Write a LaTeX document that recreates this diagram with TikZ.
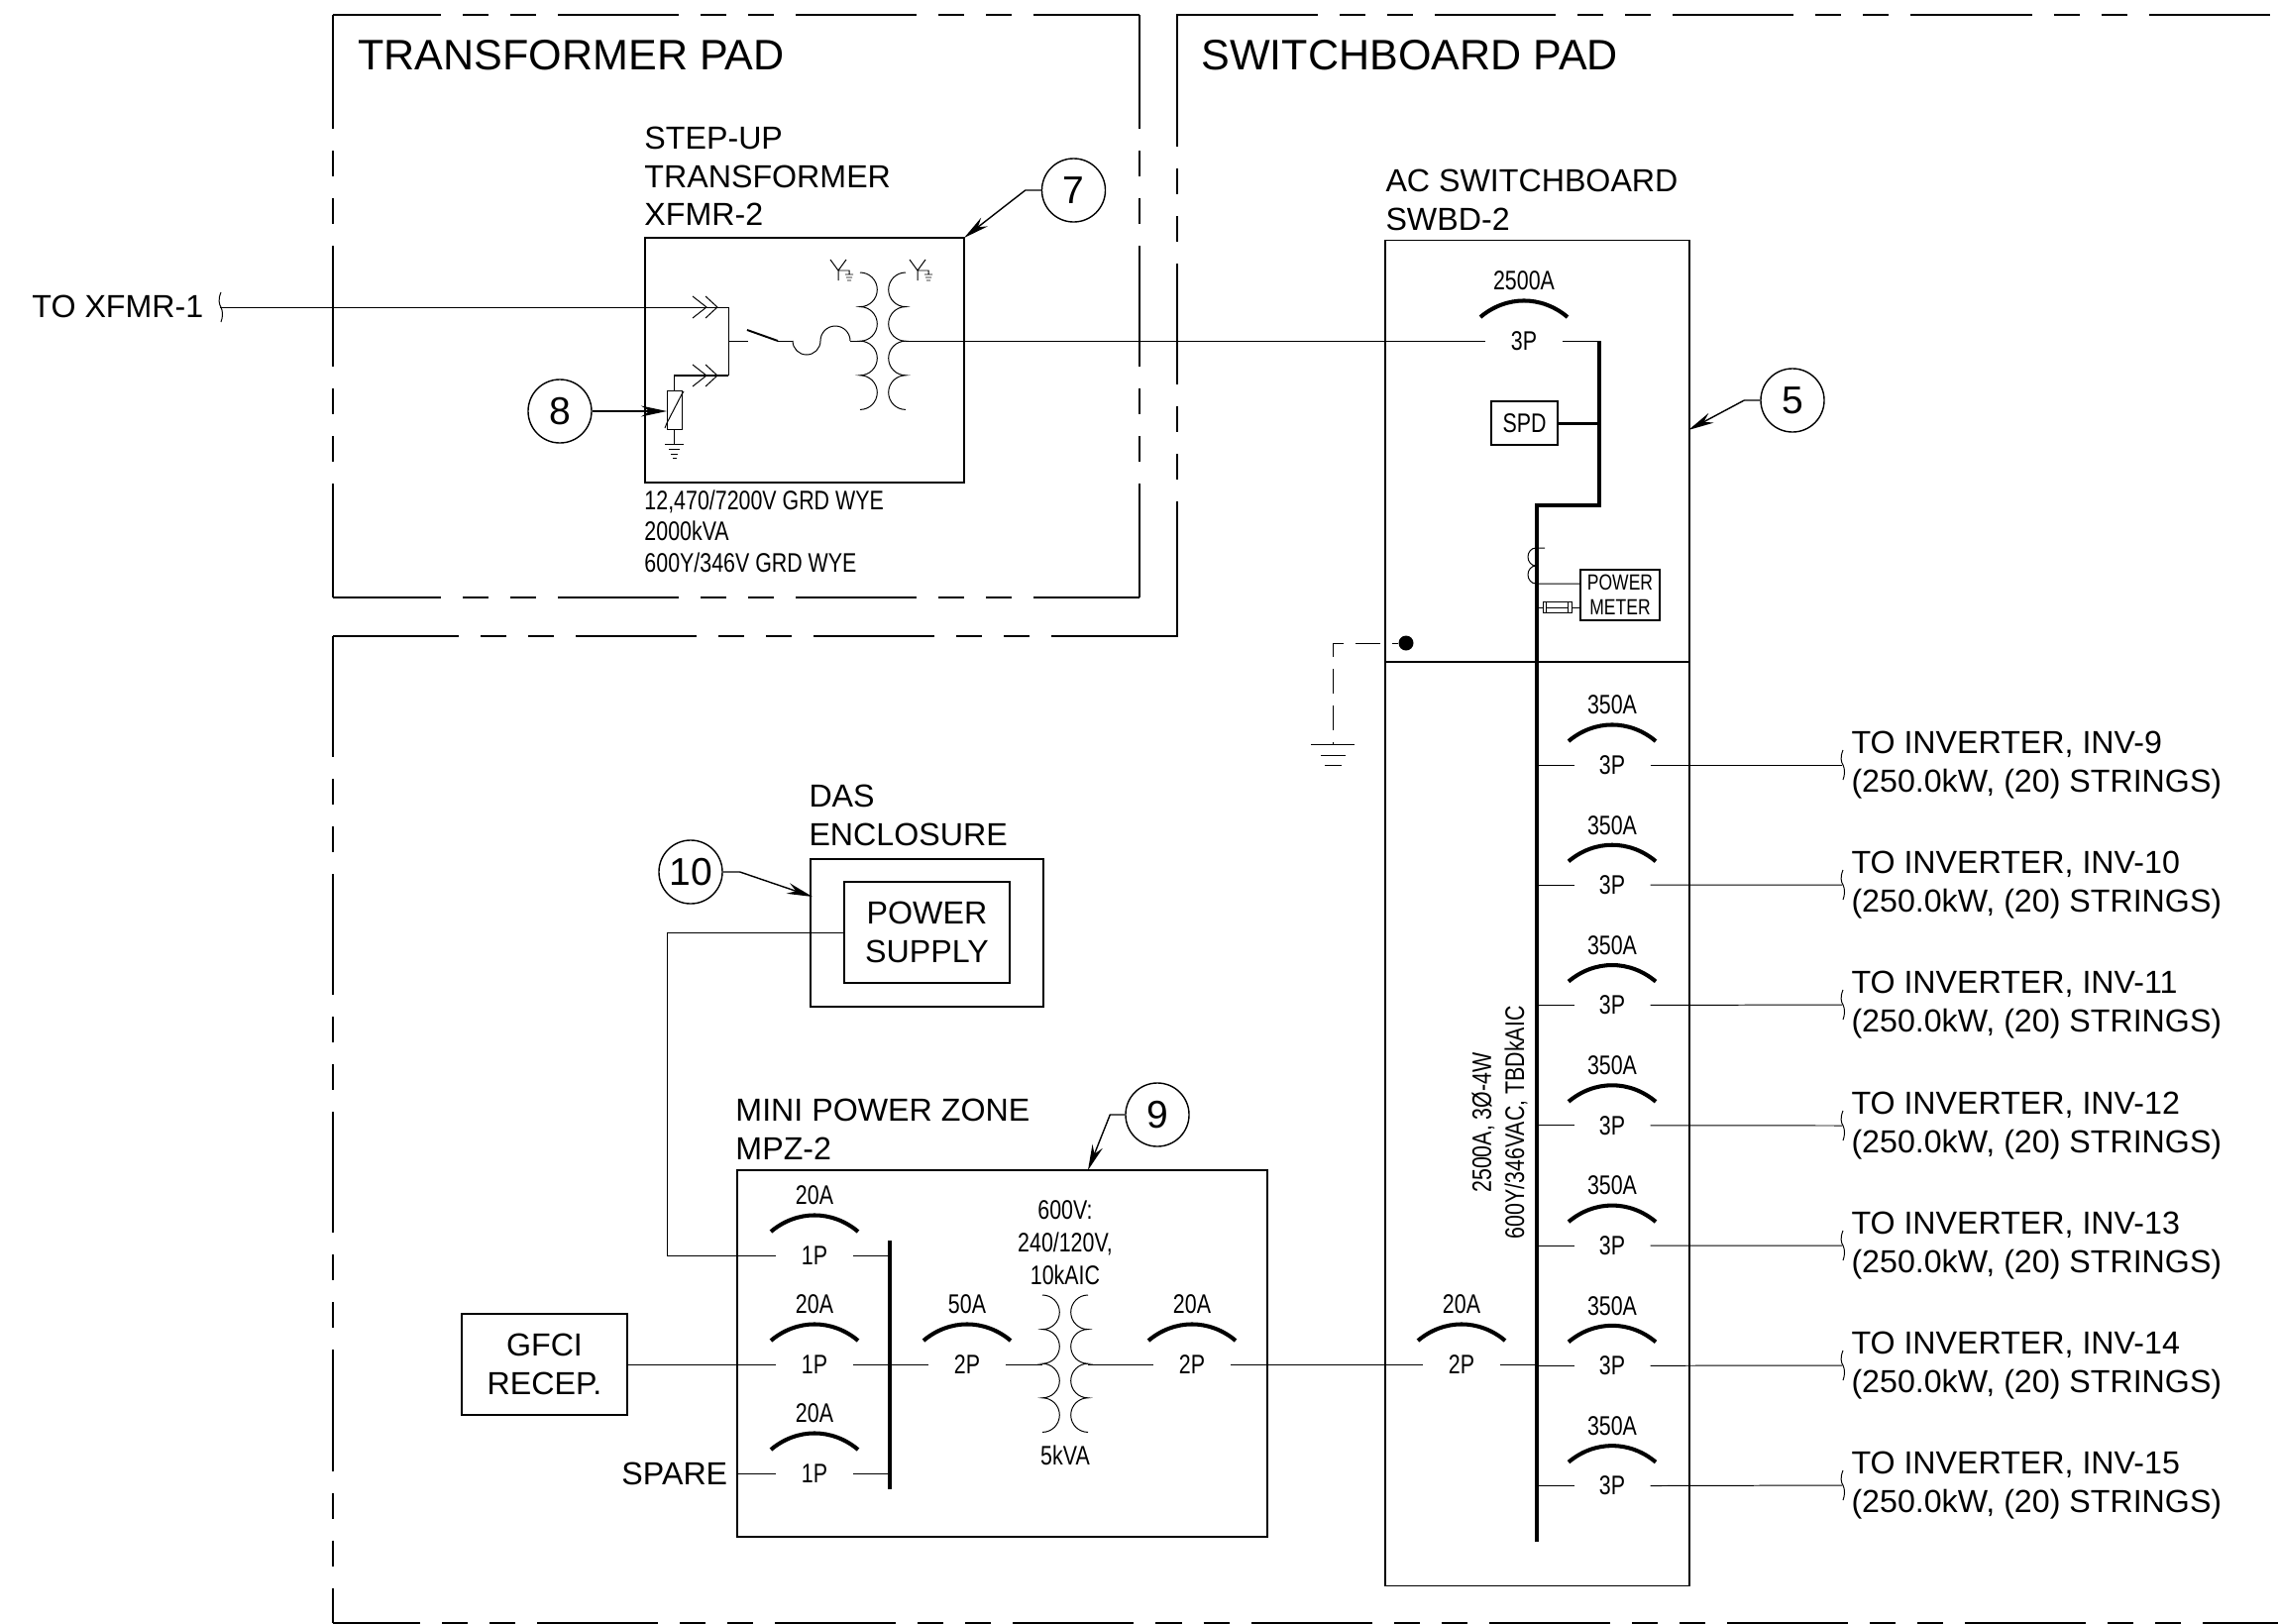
\documentclass[tikz,border=0pt]{standalone}
\usepackage{fontspec}
\setmainfont{Liberation Sans}
\newfontfamily\narrowfont[FakeStretch=0.79]{Liberation Sans}
\usetikzlibrary{arrows.meta}

\begin{document}
\begin{tikzpicture}[>={Stealth[length=.26cm,width=.11cm]}, x=.01cm, y=-.01cm, line width=.28pt,
    node distance=1.212cm, every node/.style={inner sep=0pt},
    pad/.style={line width=.5pt, dash pattern=on 1.22cm off .22cm on .26cm off .22cm on .26cm off .22cm, dash phase=#1},
    amps/.style={font=\narrowfont\fontsize{7.7}{9}\selectfont},
    cbarc/.style={line width=1.15pt, bend left=40},
    breaker/.style={minimum width=.76cm, minimum height=.28cm, font=\narrowfont\fontsize{7.7}{9}\selectfont,
      label={[amps, label distance=.36cm]above:#1},
      append after command={([shift={(-44,-24)}]\tikzlastnode.center) edge[cbarc] ([shift={(44,-24)}]\tikzlastnode.center)}},
    pics/coilr/.style={code={\draw (0,0) arc[start angle=-90,end angle=90,radius=17.3] arc[start angle=-90,end angle=90,radius=17.3]
      arc[start angle=-90,end angle=90,radius=17.3] arc[start angle=-90,end angle=90,radius=17.3];}},
    pics/coill/.style={code={\draw (0,0) arc[start angle=-90,end angle=-270,radius=17.3] arc[start angle=-90,end angle=-270,radius=17.3]
      arc[start angle=-90,end angle=-270,radius=17.3] arc[start angle=-90,end angle=-270,radius=17.3];}},
    pics/chevrons/.style={code={\draw (-25,-11) -- (-11,0) -- (-25,11) (-12,-11) -- (0,0) -- (-12,11);}},
    pics/wye/.style={code={\draw (-8,-11) -- (0,0) -- (8,-11) (0,0) -- (0,10) (0,0) -- (11,0) -- (11,4)
      (7,4) -- (15,4) (8,7) -- (14,7) (9,10) -- (13,10);}},
    pics/squig/.style={code={\draw (1,-15) .. controls (-2,-8) and (-1,-3) .. (1,0) .. controls (3,4) and (3,10) .. (1,15);}}]
  \tikzstyle{lbl}=[anchor=north west, align=left, font=\fontsize{9.15}{10.9}\selectfont]
  \tikzstyle{padlbl}=[lbl, font=\fontsize{12.25}{14}\selectfont]
  \tikzstyle{small}=[lbl, font=\narrowfont\fontsize{7.7}{8.96}\selectfont]
  \tikzstyle{box}=[draw, line width=.45pt]
  \tikzstyle{callout}=[draw, circle, minimum size=.64cm, line width=.4pt, font=\fontsize{11.1}{13}\selectfont]
  \tikzstyle{bus}=[line width=.9pt]
  \tikzstyle{lead}=[->, line width=.4pt]
  \useasboundingbox (0,0) rectangle (2299,1639);

  % pads
  \coordinate (tp1) at (336,15);
  \coordinate (tp2) at (1150,15);
  \coordinate (tp3) at (1150,603);
  \coordinate (tp4) at (336,603);
  \coordinate (sp1) at (1188,15);
  \coordinate (sp2) at (2299,15);
  \coordinate (sp3) at (1188,642);
  \coordinate (sp4) at (336,642);
  \coordinate (sp5) at (336,1638);
  \coordinate (sp6) at (2299,1638);
  \draw[pad=.13cm] (tp1) -- (tp2);
  \draw[pad=.13cm] (tp4) -- (tp3);
  \draw[pad=.07cm] (tp1) -- (tp4);
  \draw[pad=.07cm] (tp2) -- (tp3);
  \draw[pad=2.2cm] (sp1) -- (sp2);
  \draw[pad=2.29cm] (sp1) -- (sp3);
  \draw[pad=2.35cm] (sp4) -- (sp3);
  \draw[pad=0cm] (sp4) -- (sp5);
  \draw[pad=.34cm] (sp5) -- (sp6);
  \draw[line width=.5pt] (1208,15) -| (1188,26) (1183,642) -| (1188,628) (341,642) -- (sp4);
  \node[padlbl] (tplbl) at (361,40) {TRANSFORMER PAD};
  \node[padlbl] (splbl) at (1212,40) {SWITCHBOARD PAD};

  % transformer
  \node[box, minimum width=3.22cm, minimum height=2.47cm] (xfmr) at (812,363.5) {};
  \node[lbl] (xfmrtxt) at (650,128) {STEP-UP\\TRANSFORMER\\XFMR-2};
  \node[small] (xfmrdata) at (650,494) {12,470/7200V GRD WYE\\2000kVA\\600Y/346V GRD WYE};
  \node[lbl] (toxf) at (32,298) {TO XFMR-1};
  \coordinate (sxf) at (222,310);
  \coordinate (hv1) at (735,310);
  \coordinate (hv2) at (735,379);
  \coordinate (hv3) at (735,344);
  \coordinate (sw1) at (755,344);
  \coordinate (sw2) at (785,344);
  \coordinate (fu1) at (800,344);
  \coordinate (fu2) at (858,344);
  \coordinate (tx1) at (868,344);
  \coordinate (tx2) at (914,344);
  \pic at (sxf) {squig};
  \pic at (724,310) {chevrons};
  \pic at (724,379) {chevrons};
  \pic at (846,273) {wye};
  \pic at (926,273) {wye};
  \pic at (868,275) {coilr};
  \pic at (914,275) {coill};
  \node[draw, minimum width=.15cm, minimum height=.39cm] (arr) at (680.5,413.5) {};
  \draw (671,432) -- (673,427) -- (688,398) -- (690,395);
  \path (sxf) edge (hv1)
        (hv1) edge (hv2)
        (hv3) edge (sw1)
        (sw2) edge (fu1)
        (fu2) edge (tx1);
  \draw[line width=.5pt] (arr.north) |- (hv2);
  \draw[line width=.55pt] (754,333) -- (sw2);
  \draw (fu1) arc[start angle=180,end angle=0,radius=14] arc[start angle=180,end angle=360,radius=15];
  \draw (arr.south) -- (680.5,448);
  \draw (671,448) -- (690,448) (675,453) -- (686,453) (677,458) -- (684,458) (679,462) -- (683,462);

  % callouts
  \node[callout] (c7) at (1083.5,192) {7};
  \node[callout] (c8) at (565,415) {8};
  \node[callout] (c5) at (1809,404) {5};
  \node[callout] (c10) at (697,880) {10};
  \node[callout] (c9) at (1168,1125) {9};
  \coordinate (t7) at (973,240);
  \coordinate (t8) at (673,415);
  \coordinate (t5) at (1704,434);
  \coordinate (t10) at (820,905);
  \coordinate (t9) at (1098,1181);
  \draw[lead] (c7.west) -- ++(-16,0) -- (t7);
  \draw[lead] (c8.east) -- (t8);
  \draw[lead] (c5.west) -- ++(-16,0) -- (t5);
  \draw[lead] (c10.east) -- ++(17,0) -- (t10);
  \draw[lead] (c9.west) -- ++(-15,0) -- (t9);

  % switchboard
  \node[box, minimum width=3.07cm, minimum height=13.57cm] (swbd) at (1551.5,921.5) {};
  \node[lbl] (swbdtxt) at (1398,171) {AC SWITCHBOARD\\SWBD-2};
  \coordinate (dv) at (1398,668);
  \draw[line width=.55pt] (dv) -- (dv -| swbd.east);
  \node[breaker=2500A] (q1) at (1538,344) {3P};
  \node[box, minimum width=.67cm, minimum height=.44cm, font=\narrowfont\fontsize{7.7}{9}\selectfont] (spd) at (1538.5,427) {SPD};
  \coordinate (bt) at (1614,344);
  \coordinate (bj) at (1614,510);
  \coordinate (busa) at (1551,510);
  \coordinate (busb) at (1551,1556);
  \path (tx2) edge (q1)
        (q1) edge (bt);
  \draw[bus] (bt) -- (bj) -- (busa) -- (busb);
  \draw[line width=.85pt] (spd.east) -- (spd.east -| bt);

  % meter
  \node[box, minimum width=.8cm, minimum height=.51cm, align=center, font=\narrowfont\fontsize{6.3}{7.1}\selectfont] (pm) at (1635,600.5) {POWER\\METER};
  \draw (1559,553) -- (1550,553) arc[start angle=-90,end angle=-270,x radius=8,y radius=9] arc[start angle=-90,end angle=-270,x radius=8,y radius=9] -- (1595,589);
  \draw (1551,613) -- (1557,613) (1586,613) -- (1595,613);
  \node[draw, minimum width=.29cm, minimum height=.11cm] (fus) at (1571.5,612.5) {};
  \draw (1560,607) -- (1560,618) (1582,607) -- (1582,618) (1560,613) -- (1582,613);

  % ground
  \node[fill=black, circle, minimum size=.15cm] (dot) at (1419,649) {};
  \coordinate (gnd) at (1345,751);
  \draw[dash pattern=on .25cm off .12cm, dash phase=.19cm] (dot) -| (gnd);
  \draw (1323,751) -- (1367,751) (1333,762) -- (1358,762) (1337,772) -- (1354,772);

  % feeders
  \node[breaker=350A] (q9) at (1627,772) {3P};
  \node[breaker=350A] (q10) [below of=q9] {3P};
  \node[breaker=350A] (q11) [below of=q10] {3P};
  \node[breaker=350A] (q12) [below of=q11] {3P};
  \node[breaker=350A] (q13) [below of=q12] {3P};
  \node[breaker=350A] (q14) [below of=q13] {3P};
  \node[breaker=350A] (q15) [below of=q14] {3P};
  \coordinate (s9) at (1859,772);
  \coordinate (s10) at (1859,893);
  \coordinate (s11) at (1859,1014);
  \coordinate (s12) at (1859,1136);
  \coordinate (s13) at (1859,1257);
  \coordinate (s14) at (1859,1378);
  \coordinate (s15) at (1859,1499);
  \pic at (s9) {squig};
  \pic at (s10) {squig};
  \pic at (s11) {squig};
  \pic at (s12) {squig};
  \pic at (s13) {squig};
  \pic at (s14) {squig};
  \pic at (s15) {squig};
  \path (q9 -| busa) edge (q9) (q9) edge (s9)
        (q10 -| busa) edge (q10) (q10) edge (s10)
        (q11 -| busa) edge (q11) (q11) edge (s11)
        (q12 -| busa) edge (q12) (q12) edge (s12)
        (q13 -| busa) edge (q13) (q13) edge (s13)
        (q14 -| busa) edge (q14) (q14) edge (s14)
        (q15 -| busa) edge (q15) (q15) edge (s15);
  \node[lbl] (inv9) at (1868,738) {TO INVERTER, INV-9\\(250.0kW, (20) STRINGS)};
  \node[lbl] (inv10) at (1868,859) {TO INVERTER, INV-10\\(250.0kW, (20) STRINGS)};
  \node[lbl] (inv11) at (1868,980) {TO INVERTER, INV-11\\(250.0kW, (20) STRINGS)};
  \node[lbl] (inv12) at (1868,1102) {TO INVERTER, INV-12\\(250.0kW, (20) STRINGS)};
  \node[lbl] (inv13) at (1868,1223) {TO INVERTER, INV-13\\(250.0kW, (20) STRINGS)};
  \node[lbl] (inv14) at (1868,1344) {TO INVERTER, INV-14\\(250.0kW, (20) STRINGS)};
  \node[lbl] (inv15) at (1868,1465) {TO INVERTER, INV-15\\(250.0kW, (20) STRINGS)};
  \node[small, anchor=center, rotate=90, align=center, font=\narrowfont\fontsize{7.7}{9.4}\selectfont] (bustxt) at (1513.5,1133) {2500A, 3Ø-4W\\600Y/346VAC, TBDkAIC};

  % das
  \node[box, minimum width=2.35cm, minimum height=1.49cm] (das) at (935.5,941.5) {};
  \node[box, minimum width=1.67cm, minimum height=1.02cm, align=center, font=\fontsize{9.15}{10.9}\selectfont] (ps) at (935.5,941) {POWER\\SUPPLY};
  \node[lbl] (dastxt) at (816,792) {DAS\\ENCLOSURE};
  \coordinate (psc) at (673,941);

  % mini power zone
  \node[box, minimum width=5.35cm, minimum height=3.7cm] (mpz) at (1011.5,1366) {};
  \node[lbl] (mpztxt) at (742,1109) {MINI POWER ZONE\\MPZ-2};
  \node[box, minimum width=1.67cm, minimum height=1.02cm, align=center, font=\fontsize{9.15}{10.9}\selectfont] (gf) at (549.5,1377) {GFCI\\RECEP.};
  \node[lbl] (spr) at (627,1476) {SPARE};
  \coordinate (spc) at (745,1487);
  \node[breaker=20A] (m1) at (822,1267) {1P};
  \node[breaker=20A] (m2) at (822,1377) {1P};
  \node[breaker=20A] (m3) at (822,1487) {1P};
  \node[breaker=50A] (m4) at (976,1377) {2P};
  \node[breaker=20A] (m5) at (1203,1377) {2P};
  \node[breaker=20A] (q2) at (1475,1377) {2P};
  \coordinate (mba) at (898,1252);
  \coordinate (mbb) at (898,1503);
  \coordinate (lv1) at (1052,1377);
  \coordinate (lv2) at (1098,1377);
  \pic at (1052,1307) {coilr};
  \pic at (1098,1307) {coill};
  \draw[bus] (mba) -- (mbb);
  \draw (ps.west) -- (psc) |- (m1);
  \path (m1) edge (m1 -| mba)
        (m3) edge (m3 -| mba)
        (gf) edge (m2)
        (spc) edge (m3)
        (m2) edge (m4)
        (m4) edge (lv1)
        (lv2) edge (m5)
        (m5) edge (q2)
        (q2) edge (q2 -| busa);
  \node[small, anchor=center, align=center, font=\narrowfont\fontsize{7.7}{9.4}\selectfont] (lvtxt) at (1075,1254) {600V:\\240/120V,\\10kAIC};
  \node[small, anchor=center] (lvkva) at (1075,1469) {5kVA};
\end{tikzpicture}
\end{document}
